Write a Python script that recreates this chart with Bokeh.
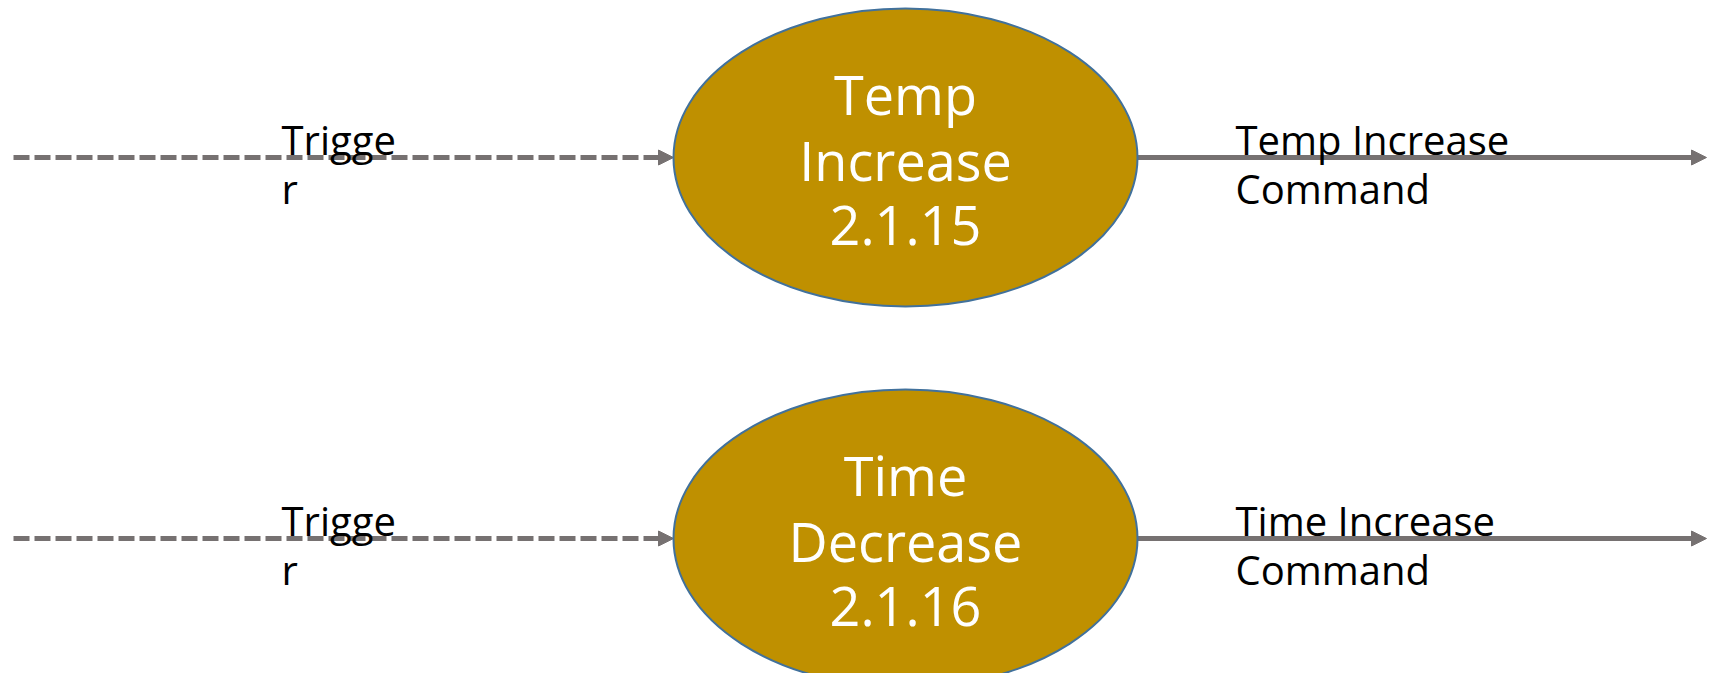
from bokeh.plotting import figure
from bokeh.models import Range1d, Arrow, NormalHead, ColumnDataSource
from bokeh.core.properties import value
from bokeh.embed import file_html
from bokeh.resources import INLINE

# ---- content ----
process_labels = ["Temp\nIncrease\n2.1.15", "Time\nDecrease\n2.1.16"]
input_labels = ["Trigge\nr", "Trigge\nr"]
output_labels = ["Temp Increase\nCommand", "Time Increase\nCommand"]

# ---- layout (screen-pixel data space) ----
W, H = 1707, 673
row_y = [157, 538]
node_cx = 905
node_rx, node_ry = 232, 149
in_start_x = 13
out_end_x = 1706
in_label_x = 281
out_label_x = 1235
label_size = 40
label_lh = 49
label_dy = -18
node_size = 54
node_lh = 66
node_dy = 2

GRAY = "#767171"
GOLD = "#BF9000"
BLUE = "#41719C"

p = figure(width=W, height=H, output_backend="svg", toolbar_location=None,
           x_range=Range1d(0, W), y_range=Range1d(H, 0),
           x_axis_location=None, y_axis_location=None, min_border=0,
           outline_line_color=None, background_fill_color="white")
p.grid.visible = False

# arrows
left_edge = node_cx - node_rx
right_edge = node_cx + node_rx
in_src = ColumnDataSource(dict(x0=[in_start_x] * len(row_y), x1=[left_edge] * len(row_y), y=row_y))
out_src = ColumnDataSource(dict(x0=[right_edge] * len(row_y), x1=[out_end_x] * len(row_y), y=row_y))
p.add_layout(Arrow(source=in_src, x_start="x0", y_start="y", x_end="x1", y_end="y",
                   line_color=GRAY, line_width=5, line_dash="16 5", level="underlay",
                   end=NormalHead(size=15, fill_color=GRAY, line_color=GRAY, line_width=1)))
p.add_layout(Arrow(source=out_src, x_start="x0", y_start="y", x_end="x1", y_end="y",
                   line_color=GRAY, line_width=5, level="underlay",
                   end=NormalHead(size=15, fill_color=GRAY, line_color=GRAY, line_width=1)))

# process ellipses
p.ellipse(x=[node_cx] * len(row_y), y=row_y, width=2 * node_rx, height=2 * node_ry,
          fill_color=GOLD, line_color=BLUE, line_width=2)

# text in ellipses (line by line, centred)
tx, ty, tt = [], [], []
for lab, y in zip(process_labels, row_y):
    lines = lab.split("\n")
    n = len(lines)
    for i, ln in enumerate(lines):
        tx.append(node_cx)
        ty.append(y + node_dy + (i - (n - 1) / 2) * node_lh)
        tt.append(ln)
p.text(x=tx, y=ty, text=tt, text_color="white", text_font=value("Open Sans"),
       text_font_size=f"{node_size}px", text_align="center", text_baseline="alphabetic")

# flow labels
def flow_labels(labels, x0):
    xs, ys, ts = [], [], []
    for lab, y in zip(labels, row_y):
        for i, ln in enumerate(lab.split("\n")):
            xs.append(x0)
            ys.append(y + label_dy + i * label_lh)
            ts.append(ln)
    p.text(x=xs, y=ys, text=ts, text_color="black", text_font=value("Open Sans"),
           text_font_size=f"{label_size}px", text_align="left", text_baseline="alphabetic")

flow_labels(input_labels, in_label_x)
flow_labels(output_labels, out_label_x)

open("out.html", "w").write(file_html(p, INLINE))
